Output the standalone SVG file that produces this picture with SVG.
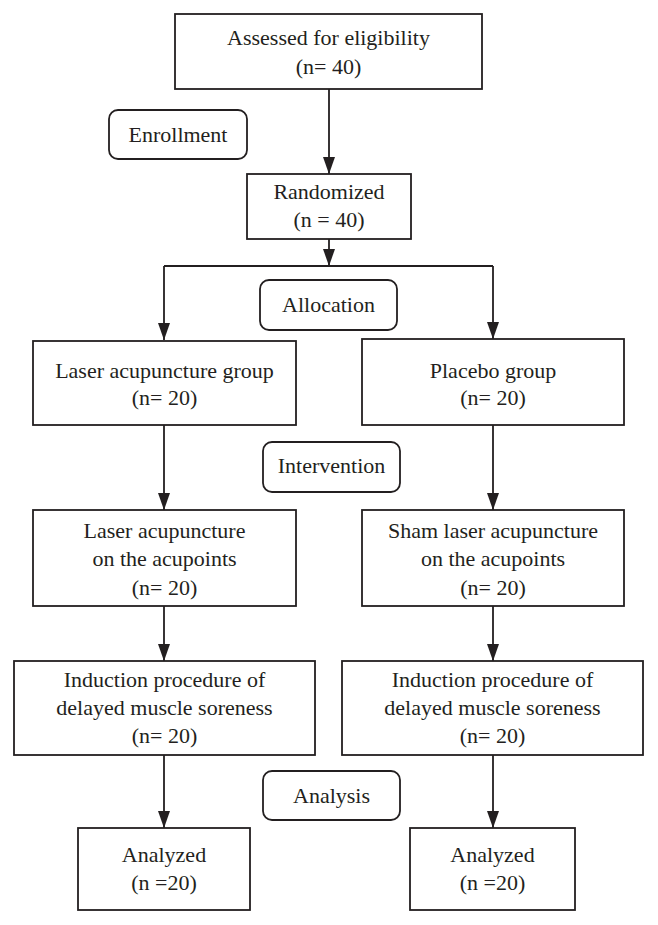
<svg xmlns="http://www.w3.org/2000/svg" width="658" height="925" viewBox="0 0 658 925">
<style>
.box{fill:#fff;stroke:#231f20;stroke-width:1.8}
.rbox{fill:#fff;stroke:#231f20;stroke-width:1.8}
.t{font-family:"Liberation Serif","Times New Roman",serif;font-size:22px;fill:#231f20;text-anchor:middle}
.c{fill:none;stroke:#231f20;stroke-width:1.8}
</style>
<defs>
<marker id="ah" viewBox="0 0 17 12" refX="17" refY="6" markerWidth="17" markerHeight="12" markerUnits="userSpaceOnUse" orient="auto">
<path d="M0,0 L17,6 L0,12 z" fill="#231f20"/>
</marker>
</defs>
<rect width="658" height="925" fill="#fff"/>
<g id="connectors">
<path class="c" d="M329,89 V174" marker-end="url(#ah)"/>
<path class="c" d="M329,239 V266" marker-end="url(#ah)"/>
<path class="c" d="M164,266 H493"/>
<path class="c" d="M164,266 V340" marker-end="url(#ah)"/>
<path class="c" d="M493,266 V339" marker-end="url(#ah)"/>
<path class="c" d="M164,425 V510" marker-end="url(#ah)"/>
<path class="c" d="M493,425 V510" marker-end="url(#ah)"/>
<path class="c" d="M164,606 V661" marker-end="url(#ah)"/>
<path class="c" d="M493,606 V661" marker-end="url(#ah)"/>
<path class="c" d="M164,755 V828" marker-end="url(#ah)"/>
<path class="c" d="M493,755 V828" marker-end="url(#ah)"/>
</g>
<g id="assessed">
<rect class="box" x="175" y="14" width="307" height="75"/>
<text class="t" x="328.5" y="45">Assessed for eligibility</text>
<text class="t" x="328.5" y="74">(n= 40)</text>
</g>
<g id="enrollment">
<rect class="rbox" x="109" y="110" width="138" height="49" rx="9"/>
<text class="t" x="178" y="142">Enrollment</text>
</g>
<g id="randomized">
<rect class="box" x="247" y="174" width="164" height="65"/>
<text class="t" x="329" y="199">Randomized</text>
<text class="t" x="329" y="227">(n = 40)</text>
</g>
<g id="allocation">
<rect class="rbox" x="260" y="280" width="137" height="50" rx="9"/>
<text class="t" x="328.5" y="312">Allocation</text>
</g>
<g id="laser-group">
<rect class="box" x="33" y="341" width="263" height="84"/>
<text class="t" x="164.5" y="378">Laser acupuncture group</text>
<text class="t" x="164.5" y="405">(n= 20)</text>
</g>
<g id="placebo-group">
<rect class="box" x="362" y="339" width="262" height="86"/>
<text class="t" x="493" y="378">Placebo group</text>
<text class="t" x="493" y="405">(n= 20)</text>
</g>
<g id="intervention">
<rect class="rbox" x="263" y="442" width="137" height="50" rx="9"/>
<text class="t" x="331.5" y="473">Intervention</text>
</g>
<g id="laser-acupoints">
<rect class="box" x="33" y="510" width="263" height="96"/>
<text class="t" x="164.5" y="538">Laser acupuncture</text>
<text class="t" x="164.5" y="566">on the acupoints</text>
<text class="t" x="164.5" y="595">(n= 20)</text>
</g>
<g id="sham-acupoints">
<rect class="box" x="362" y="510" width="262" height="96"/>
<text class="t" x="493" y="538">Sham laser acupuncture</text>
<text class="t" x="493" y="566">on the acupoints</text>
<text class="t" x="493" y="595">(n= 20)</text>
</g>
<g id="induction-left">
<rect class="box" x="14" y="661" width="301" height="94"/>
<text class="t" x="164.5" y="687">Induction procedure of</text>
<text class="t" x="164.5" y="715">delayed muscle soreness</text>
<text class="t" x="164.5" y="743">(n= 20)</text>
</g>
<g id="induction-right">
<rect class="box" x="342" y="661" width="301" height="94"/>
<text class="t" x="492.5" y="687">Induction procedure of</text>
<text class="t" x="492.5" y="715">delayed muscle soreness</text>
<text class="t" x="492.5" y="743">(n= 20)</text>
</g>
<g id="analysis">
<rect class="rbox" x="263" y="771" width="137" height="49" rx="9"/>
<text class="t" x="331.5" y="803">Analysis</text>
</g>
<g id="analyzed-left">
<rect class="box" x="78" y="828" width="172" height="82"/>
<text class="t" x="164" y="862">Analyzed</text>
<text class="t" x="164" y="890">(n =20)</text>
</g>
<g id="analyzed-right">
<rect class="box" x="410" y="828" width="165" height="82"/>
<text class="t" x="492.5" y="862">Analyzed</text>
<text class="t" x="492.5" y="890">(n =20)</text>
</g>
</svg>
